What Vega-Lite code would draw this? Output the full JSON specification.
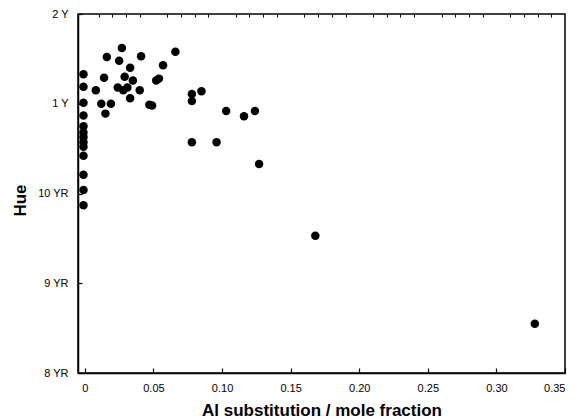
{
  "$schema": "https://vega.github.io/schema/vega-lite/v6.json",
  "autosize": {"type": "none"},
  "padding": {"left": 78, "top": 14, "right": 15, "bottom": 46},
  "width": 487,
  "height": 359,
  "background": "white",
  "config": {
    "view": {"stroke": "black", "strokeWidth": 1.5},
    "font": "Liberation Sans"
  },
  "data": {"values": [
    {"al": -0.001, "hue": 11.33},
    {"al": -0.001, "hue": 11.19},
    {"al": -0.001, "hue": 11.01},
    {"al": -0.001, "hue": 10.87},
    {"al": -0.001, "hue": 10.75},
    {"al": -0.001, "hue": 10.68},
    {"al": -0.001, "hue": 10.63},
    {"al": -0.001, "hue": 10.57},
    {"al": -0.001, "hue": 10.52},
    {"al": -0.001, "hue": 10.42},
    {"al": -0.001, "hue": 10.21},
    {"al": -0.001, "hue": 10.04},
    {"al": -0.001, "hue": 9.87},
    {"al": 0.008, "hue": 11.15},
    {"al": 0.012, "hue": 11.0},
    {"al": 0.015, "hue": 10.89},
    {"al": 0.019, "hue": 11.0},
    {"al": 0.014, "hue": 11.29},
    {"al": 0.016, "hue": 11.52},
    {"al": 0.027, "hue": 11.62},
    {"al": 0.025, "hue": 11.48},
    {"al": 0.033, "hue": 11.40},
    {"al": 0.029, "hue": 11.30},
    {"al": 0.035, "hue": 11.26},
    {"al": 0.024, "hue": 11.18},
    {"al": 0.028, "hue": 11.15},
    {"al": 0.031, "hue": 11.18},
    {"al": 0.033, "hue": 11.06},
    {"al": 0.040, "hue": 11.15},
    {"al": 0.041, "hue": 11.53},
    {"al": 0.047, "hue": 10.99},
    {"al": 0.049, "hue": 10.98},
    {"al": 0.052, "hue": 11.26},
    {"al": 0.054, "hue": 11.28},
    {"al": 0.057, "hue": 11.43},
    {"al": 0.066, "hue": 11.58},
    {"al": 0.078, "hue": 11.11},
    {"al": 0.078, "hue": 11.03},
    {"al": 0.085, "hue": 11.14},
    {"al": 0.078, "hue": 10.57},
    {"al": 0.096, "hue": 10.57},
    {"al": 0.103, "hue": 10.92},
    {"al": 0.116, "hue": 10.86},
    {"al": 0.124, "hue": 10.92},
    {"al": 0.127, "hue": 10.33},
    {"al": 0.168, "hue": 9.53},
    {"al": 0.328, "hue": 8.55}
  ]},
  "layer": [
    {
      "mark": {"type": "point", "filled": true, "color": "black", "opacity": 1, "size": 72},
      "encoding": {
        "x": {
          "field": "al", "type": "quantitative",
          "scale": {"domain": [-0.005, 0.35], "nice": false, "zero": false},
          "axis": {
            "values": [0, 0.05, 0.1, 0.15, 0.2, 0.25, 0.3, 0.35],
            "labelExpr": "datum.value == 0 ? '0' : format(datum.value, '.2f')",
            "grid": false, "domainColor": "black", "domainWidth": 1.5,
            "tickColor": "black", "tickSize": -5, "tickWidth": 1.2,
            "labelFontSize": 11, "labelColor": "black", "labelPadding": 14,
            "title": "Al substitution / mole fraction",
            "titleFontSize": 17, "titleFontWeight": "bold", "titleColor": "black", "titlePadding": 9
          }
        },
        "y": {
          "field": "hue", "type": "quantitative",
          "scale": {"domain": [8, 12], "nice": false, "zero": false},
          "axis": {
            "values": [8, 9, 10, 11, 12],
            "labelExpr": "datum.value == 12 ? '2 Y' : datum.value == 11 ? '1 Y' : datum.value == 10 ? '10 YR' : datum.value == 9 ? '9 YR' : '8 YR'",
            "grid": false, "domainColor": "black", "domainWidth": 1.5,
            "tickColor": "black", "tickSize": -4, "tickWidth": 1.2,
            "labelFontSize": 11, "labelColor": "black", "labelPadding": 14,
            "title": "Hue", "titleY": 186,
            "titleFontSize": 17, "titleFontWeight": "bold", "titleColor": "black", "titlePadding": 8
          }
        }
      }
    },
    {
      "mark": {"type": "point", "opacity": 0},
      "encoding": {
        "x": {
          "field": "al", "type": "quantitative",
          "axis": {
            "values": [0.01, 0.02, 0.03, 0.04, 0.06, 0.07, 0.08, 0.09, 0.11, 0.12, 0.13, 0.14, 0.16, 0.17, 0.18, 0.19, 0.21, 0.22, 0.23, 0.24, 0.26, 0.27, 0.28, 0.29, 0.31, 0.32, 0.33, 0.34],
            "labels": false, "domain": false, "grid": false,
            "tickColor": "black", "tickSize": -3, "tickWidth": 1, "title": null
          }
        },
        "y": {"field": "hue", "type": "quantitative"}
      }
    }
  ],
  "resolve": {"axis": {"x": "independent"}}
}
